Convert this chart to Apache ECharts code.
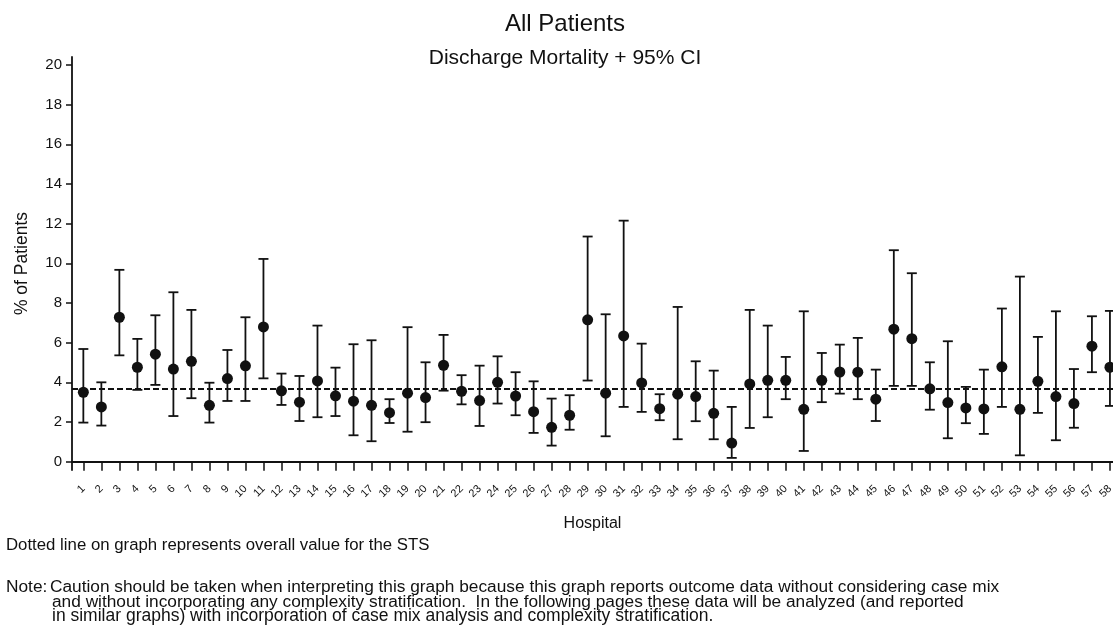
<!DOCTYPE html>
<html>
<head>
<meta charset="utf-8">
<script src="https://cdn.jsdelivr.net/npm/echarts@6/dist/echarts.min.js"></script>
<style>
  html, body { margin: 0; padding: 0; background: #fff; }
  #chart { width: 1113px; height: 626px; }
</style>
</head>
<body>
<div id="chart"></div>
<script>
// hospital numbers along the x axis
const hospitals = [1, 2, 3, 4, 5, 6, 7, 8, 9, 10, 11, 12, 13, 14, 15, 16, 17, 18, 19, 20,
  21, 22, 23, 24, 25, 26, 27, 28, 29, 30, 31, 32, 33, 34, 35, 36, 37, 38, 39, 40,
  41, 42, 43, 44, 45, 46, 47, 48, 49, 50, 51, 52, 53, 54, 55, 56, 57, 58]

// discharge mortality (%) per hospital
const rate = [3.50, 2.76, 7.28, 4.76, 5.42, 4.67, 5.06, 2.84, 4.19, 4.83,
  6.79, 3.57, 3.00, 4.07, 3.32, 3.05, 2.84, 2.47, 3.45, 3.23,
  4.86, 3.55, 3.08, 4.00, 3.31, 2.52, 1.73, 2.34, 7.15, 3.45,
  6.34, 3.97, 2.67, 3.40, 3.28, 2.44, 0.94, 3.92, 4.10, 4.10,
  2.64, 4.10, 4.52, 4.51, 3.15, 6.68, 6.20, 3.67, 2.98, 2.71,
  2.66, 4.78, 2.64, 4.05, 3.28, 2.93, 5.82, 4.76]

// 95% CI bounds
const ciLow = [1.97, 1.82, 5.36, 3.62, 3.87, 2.30, 3.20, 1.97, 3.06, 3.06,
  4.20, 2.86, 2.05, 2.24, 2.30, 1.33, 1.03, 1.95, 1.51, 1.99,
  3.58, 2.89, 1.80, 2.93, 2.34, 1.45, 0.81, 1.61, 4.09, 1.28,
  2.76, 2.51, 2.09, 1.13, 2.04, 1.13, 0.19, 1.70, 2.24, 3.15,
  0.54, 3.00, 3.43, 3.15, 2.05, 3.82, 3.82, 2.62, 1.18, 1.94,
  1.40, 2.76, 0.32, 2.46, 1.08, 1.71, 4.51, 2.81]
const ciHigh = [5.68, 4.00, 9.67, 6.19, 7.38, 8.54, 7.65, 3.98, 5.63, 7.28,
  10.22, 4.44, 4.32, 6.86, 4.74, 5.92, 6.12, 3.15, 6.78, 5.01,
  6.39, 4.36, 4.84, 5.31, 4.51, 4.05, 3.18, 3.35, 11.35, 7.43,
  12.15, 5.95, 3.40, 7.80, 5.06, 4.59, 2.76, 7.65, 6.86, 5.28,
  7.58, 5.48, 5.90, 6.24, 4.64, 10.66, 9.50, 5.01, 6.07, 3.77,
  4.64, 7.72, 9.33, 6.29, 7.58, 4.67, 7.33, 7.60]

// overall STS value (dotted line)
const overall = 3.67

const yTicks = [0, 2, 4, 6, 8, 10, 12, 14, 16, 18, 20]

const FONT = '"Liberation Sans", Arial, sans-serif'
const INK = '#111'

const myChart = echarts.init(document.getElementById('chart'))

const pointData = hospitals.map((h, i) => [h, rate[i]])
const barData = hospitals.map((h, i) => [h, ciLow[i], ciHigh[i]])

function renderBar (params, api) {
  const x = api.value(0)
  const lo = api.coord([x, api.value(1)])
  const hi = api.coord([x, api.value(2)])
  const w = 5
  const style = { stroke: INK, lineWidth: 1.8 }
  return {
    type: 'group',
    children: [
      { type: 'line', shape: { x1: lo[0], y1: lo[1], x2: hi[0], y2: hi[1] }, style },
      { type: 'line', shape: { x1: hi[0] - w, y1: hi[1], x2: hi[0] + w, y2: hi[1] }, style },
      { type: 'line', shape: { x1: lo[0] - w, y1: lo[1], x2: lo[0] + w, y2: lo[1] }, style }
    ]
  }
}

const option = {
  animation: false,
  backgroundColor: '#fff',
  graphic: [
    { type: 'text', x: 565, y: 24, style: { text: 'All Patients', font: '24px ' + FONT, fill: INK, align: 'center', verticalAlign: 'middle' } },
    { type: 'text', x: 565, y: 58, style: { text: 'Discharge Mortality + 95% CI', font: '21px ' + FONT, fill: INK, align: 'center', verticalAlign: 'middle' } },
    { type: 'text', x: 6, y: 545, style: { text: 'Dotted line on graph represents overall value for the STS', font: '16.8px ' + FONT, fill: INK, verticalAlign: 'middle' } },
    { type: 'text', x: 6, y: 587, style: { text: 'Note:', font: '17.3px ' + FONT, fill: INK, verticalAlign: 'middle' } },
    { type: 'text', x: 50, y: 587, style: { text: 'Caution should be taken when interpreting this graph because this graph reports outcome data without considering case mix', font: '17.3px ' + FONT, fill: INK, verticalAlign: 'middle' } },
    { type: 'text', x: 52, y: 602, style: { text: 'and without incorporating any complexity stratification.  In the following pages these data will be analyzed (and reported', font: '17.3px ' + FONT, fill: INK, verticalAlign: 'middle' } },
    { type: 'text', x: 52, y: 616.5, style: { text: 'in similar graphs) with incorporation of case mix analysis and complexity stratification.', font: '17.5px ' + FONT, fill: INK, verticalAlign: 'middle' } }
  ],
  grid: {
    left: 72,
    right: 0,
    top: 57,
    bottom: 156,
    containLabel: false,
    outerBoundsMode: 'none'
  },
  xAxis: {
    type: 'value',
    min: 0.37,
    max: 58.17,
    name: 'Hospital',
    nameLocation: 'middle',
    nameGap: 46,
    nameMoveOverlap: false,
    nameTextStyle: { fontFamily: FONT, fontSize: 16, color: INK },
    axisLine: { show: true, lineStyle: { color: INK, width: 1.8 } },
    axisTick: { show: true, length: 9, customValues: hospitals, lineStyle: { color: INK, width: 1.5 } },
    axisLabel: {
      customValues: hospitals,
      rotate: 45,
      margin: 17,
      fontFamily: FONT,
      fontSize: 11,
      color: INK,
      showMinLabel: true,
      showMaxLabel: true,
      hideOverlap: false
    },
    splitLine: { show: false }
  },
  yAxis: {
    type: 'value',
    min: -0.42,
    max: 20.4,
    name: '% of Patients',
    nameLocation: 'middle',
    nameGap: 41,
    nameMoveOverlap: false,
    nameTextStyle: { fontFamily: FONT, fontSize: 17.5, color: INK },
    axisLine: { show: true, lineStyle: { color: INK, width: 1.8 } },
    axisTick: { show: true, length: 6, customValues: yTicks, lineStyle: { color: INK, width: 1.5 } },
    axisLabel: {
      customValues: yTicks,
      margin: 10,
      fontFamily: FONT,
      fontSize: 15,
      color: INK
    },
    splitLine: { show: false }
  },
  series: [
    {
      name: '95% CI',
      type: 'custom',
      renderItem: renderBar,
      encode: { x: 0, y: [1, 2] },
      data: barData,
      z: 2
    },
    {
      name: 'Discharge Mortality',
      type: 'scatter',
      symbol: 'circle',
      symbolSize: 11,
      itemStyle: { color: INK, opacity: 1 },
      data: pointData,
      z: 3,
      markLine: {
        silent: true,
        symbol: 'none',
        label: { show: false },
        lineStyle: { color: INK, type: [6, 3], width: 1.8 },
        data: [{ yAxis: overall }]
      }
    }
  ]
}
myChart.setOption(option)
</script>
</body>
</html>
